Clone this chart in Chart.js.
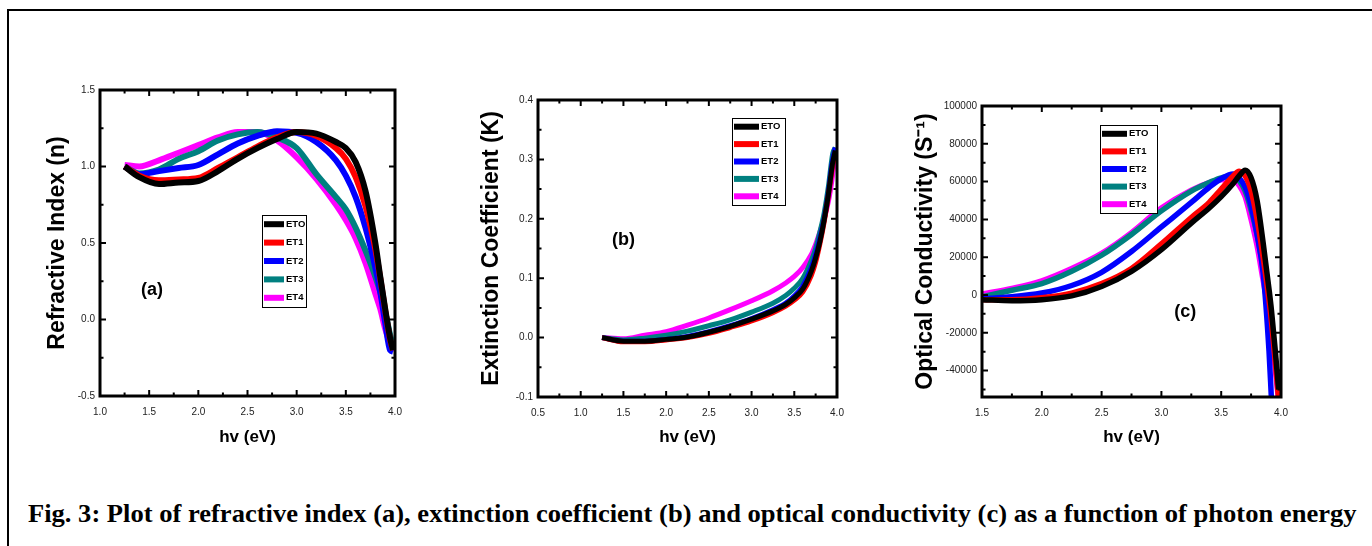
<!DOCTYPE html>
<html>
<head>
<meta charset="utf-8">
<script src="https://cdn.jsdelivr.net/npm/chart.js@4.4.1/dist/chart.umd.min.js"></script>
<style>
  body { margin: 0; background: #fff; width: 1372px; height: 546px; overflow: hidden; position: relative; }
  .frame { position: absolute; left: 7px; top: 9px; width: 1400px; height: 600px; border-top: 2px solid #000; border-left: 2px solid #000; }
  canvas { position: absolute; }
  #cap { position: absolute; left: 28px; top: 501px; font: bold 26px "Liberation Serif", "Times New Roman", serif; line-height: 26px; white-space: nowrap; transform-origin: 0 0; }
</style>
</head>
<body>
<div class="frame"></div>
<canvas id="chartA" width="385" height="380" style="left:20px;top:80px"></canvas>
<canvas id="chartB" width="377" height="370" style="left:470px;top:90px"></canvas>
<canvas id="chartC" width="391" height="364" style="left:900px;top:96px"></canvas>
<div id="cap">Fig. 3: Plot of refractive index (a), extinction coefficient (b) and optical conductivity (c) as a function of photon energy</div>

<script>
// series names + colours
const seriesNames = ["ETO", "ET1", "ET2", "ET3", "ET4"];
const lineColors = ["#000000", "#ff0000", "#0000ff", "#008080", "#ff00ff"];

// (a) refractive index
const hvA = [1.25, 1.4, 1.6, 1.8, 2.0, 2.2, 2.4, 2.6, 2.8, 3.0, 3.2, 3.4, 3.5, 3.6, 3.7, 3.8, 3.85, 3.9, 3.95, 3.98];
const nETO = [1.0, 0.93, 0.885, 0.895, 0.905, 0.97, 1.05, 1.12, 1.18, 1.225, 1.215, 1.16, 1.12, 1.03, 0.84, 0.5, 0.28, 0.07, -0.12, -0.2];
const nET1 = [1.0, 0.94, 0.91, 0.915, 0.925, 0.99, 1.06, 1.13, 1.19, 1.225, 1.2, 1.12, 1.05, 0.93, 0.74, 0.46, 0.27, 0.06, -0.13, -0.2];
const nET2 = [1.0, 0.95, 0.97, 0.99, 1.01, 1.08, 1.15, 1.2, 1.23, 1.22, 1.16, 1.04, 0.94, 0.8, 0.6, 0.34, 0.18, -0.02, -0.2, -0.21];
const nET3 = [1.0, 0.955, 0.98, 1.05, 1.1, 1.17, 1.21, 1.225, 1.19, 1.12, 0.95, 0.8, 0.72, 0.6, 0.45, 0.28, 0.18, 0.05, -0.1, -0.17];
const nET4 = [1.01, 1.0, 1.04, 1.09, 1.14, 1.19, 1.225, 1.225, 1.17, 1.06, 0.92, 0.75, 0.65, 0.53, 0.37, 0.17, 0.07, -0.06, -0.16, -0.21];

// (b) extinction coefficient
const hvB = [1.25, 1.5, 1.75, 2.0, 2.25, 2.5, 2.75, 3.0, 3.25, 3.4, 3.5, 3.6, 3.7, 3.75, 3.8, 3.85, 3.9, 3.93, 3.95, 3.98];
const kETO = [0.0, -0.006, -0.006, -0.003, 0.001, 0.009, 0.019, 0.031, 0.045, 0.056, 0.067, 0.082, 0.112, 0.134, 0.162, 0.198, 0.242, 0.275, 0.295, 0.315];
const kET1 = [0.0, -0.007, -0.007, -0.004, 0.0, 0.007, 0.017, 0.028, 0.042, 0.053, 0.063, 0.077, 0.105, 0.127, 0.158, 0.195, 0.24, 0.27, 0.29, 0.31];
const kET2 = [0.0, -0.006, -0.006, -0.003, 0.002, 0.01, 0.02, 0.032, 0.047, 0.058, 0.07, 0.087, 0.118, 0.14, 0.168, 0.2, 0.245, 0.28, 0.3, 0.32];
const kET3 = [0.0, -0.004, -0.001, 0.004, 0.011, 0.02, 0.03, 0.043, 0.058, 0.071, 0.083, 0.1, 0.13, 0.15, 0.178, 0.21, 0.255, 0.29, 0.31, 0.32];
const kET4 = [0.0, -0.002, 0.004, 0.01, 0.021, 0.033, 0.047, 0.062, 0.079, 0.092, 0.103, 0.118, 0.14, 0.157, 0.178, 0.2, 0.23, 0.255, 0.275, 0.31];

// (c) optical conductivity
const hvC = [1.5, 1.75, 2.0, 2.25, 2.5, 2.75, 3.0, 3.25, 3.4, 3.5, 3.6, 3.65, 3.7, 3.75, 3.8, 3.85, 3.9, 3.92, 3.95, 3.98];
const sETO = [-2500, -3000, -2500, -500, 4500, 12500, 24000, 38000, 46000, 52000, 59000, 63000, 66000, 62000, 50000, 28000, 3000, -8000, -28000, -50000];
const sET1 = [-2500, -2500, -1500, 1000, 6000, 14000, 27000, 41000, 49000, 56000, 63000, 65500, 63000, 55000, 40000, 20000, -3000, -14000, -34000, -55000];
const sET2 = [-2000, -1000, 1000, 5000, 12000, 23000, 36000, 49000, 57000, 61500, 64000, 62000, 57000, 47000, 32000, 12000, -30000, -55000, null, null];
const sET3 = [-1000, 2500, 6000, 12500, 21000, 32000, 44500, 55000, 59500, 62000, 62500, 60500, 55000, 45000, 32000, 14000, -5000, -15000, -32000, -50000];
const sET4 = [500, 3500, 7500, 14000, 22000, 33000, 46000, 55500, 59500, 61000, 61000, 58000, 52000, 40000, 26000, 8000, -10000, -20000, -38000, -56000];
const sTicks = [-40000, -20000, 0, 20000, 40000, 60000, 80000, 100000];

const sans = "'Liberation Sans', Arial, sans-serif";

// box + inward ticks on all four sides
const frameTicks = {
  id: "frameTicks",
  afterDatasetsDraw(chart) {
    const { ctx, chartArea: a } = chart;
    ctx.save();
    ctx.strokeStyle = "#000";
    ctx.lineWidth = 2;
    ["x", "y"].forEach((key) => {
      const s = chart.scales[key];
      const vals = s.ticks.map((t) => t.value);
      const step = vals[1] - vals[0];
      const eps = step * 1e-6;
      for (let k = -2; k <= vals.length * 2 + 2; k++) {
        const v = vals[0] + (k * step) / 2;
        if (v < s.min - eps || v > s.max + eps) continue;
        const len = k % 2 === 0 ? 6 : 3.5;
        const p = s.getPixelForValue(v);
        ctx.beginPath();
        if (key === "x") {
          ctx.moveTo(p, a.bottom); ctx.lineTo(p, a.bottom - len);
          ctx.moveTo(p, a.top); ctx.lineTo(p, a.top + len);
        } else {
          ctx.moveTo(a.left, p); ctx.lineTo(a.left + len, p);
          ctx.moveTo(a.right, p); ctx.lineTo(a.right - len, p);
        }
        ctx.stroke();
      }
    });
    ctx.lineWidth = 3;
    ctx.strokeRect(a.left, a.top, a.width, a.height);
    ctx.restore();
  },
};

// legend box inside the plot + panel letter
const boxLegend = {
  id: "boxLegend",
  afterDraw(chart, args, o) {
    const { ctx, chartArea: a } = chart;
    const bx = a.left + o.left, by = a.top + o.top;
    const rowH = o.h / chart.data.datasets.length;
    ctx.save();
    ctx.fillStyle = "#fff";
    ctx.fillRect(bx, by, o.w, o.h);
    ctx.strokeStyle = "#000";
    ctx.lineWidth = 1;
    ctx.strokeRect(bx + 0.5, by + 0.5, o.w, o.h);
    chart.data.datasets.forEach((ds, i) => {
      const cy = by + rowH * (i + 0.5);
      ctx.strokeStyle = ds.borderColor;
      ctx.lineWidth = 6;
      ctx.beginPath();
      ctx.moveTo(bx + 2, cy);
      ctx.lineTo(bx + 2 + o.sample, cy);
      ctx.stroke();
      ctx.fillStyle = "#000";
      ctx.font = "bold 9.5px " + sans;
      ctx.textBaseline = "middle";
      ctx.fillText(ds.label, bx + o.sample + 4, cy);
    });
    // panel letter
    ctx.font = "bold 18px " + sans;
    ctx.textAlign = "center";
    ctx.textBaseline = "middle";
    ctx.fillText(o.note, chart.scales.x.getPixelForValue(o.noteX), chart.scales.y.getPixelForValue(o.noteY));
    ctx.restore();
  },
};

function makePanel(id, hv, series, cfg) {
  const datasets = series.map((vals, i) => ({
    label: seriesNames[i],
    data: hv.map((x, j) => ({ x: x, y: vals[j] })),
    borderColor: lineColors[i],
    backgroundColor: lineColors[i],
    borderWidth: cfg.lw,
    pointRadius: 0,
    cubicInterpolationMode: "monotone",
    fill: false,
  }));
  const tickFont = { family: sans, size: 10 };
  new Chart(document.getElementById(id), {
    type: "line",
    data: { datasets },
    plugins: [frameTicks, boxLegend],
    options: {
      responsive: false,
      animation: false,
      events: [],
      layout: { padding: { top: cfg.padTop, right: 10, left: 0, bottom: 0 } },
      plugins: {
        legend: { display: false },
        tooltip: { enabled: false },
        boxLegend: cfg.legend,
      },
      scales: {
        x: {
          type: "linear",
          min: cfg.xMin, max: cfg.xMax,
          grid: { display: false, drawTicks: false },
          border: { display: false },
          ticks: { stepSize: 0.5, font: tickFont, color: "#222", padding: 10, maxRotation: 0, autoSkip: false, callback: (v) => v.toFixed(1) },
          title: { display: true, text: "hv (eV)", color: "#000", font: { family: sans, size: 17, weight: "bold" }, padding: { top: 0, bottom: 12 } },
          afterFit: (s) => { s.height = cfg.xAxisH; s.paddingLeft = 0; s.paddingRight = 0; },
        },
        y: {
          min: cfg.yMin, max: cfg.yMax,
          grid: { display: false, drawTicks: false },
          border: { display: false },
          ticks: { stepSize: cfg.yStep, font: tickFont, color: "#222", padding: 5, autoSkip: false, callback: cfg.yFmt },
          afterBuildTicks: cfg.yTicks ? (s) => { s.ticks = cfg.yTicks.map((v) => ({ value: v })); } : undefined,
          title: { display: true, text: cfg.yTitle, color: "#000", font: { family: sans, size: 23, weight: "bold" }, padding: { top: cfg.yTitlePad, bottom: 0 } },
          afterFit: (s) => { s.width = cfg.yAxisW; s.paddingTop = 0; s.paddingBottom = 0; },
        },
      },
    },
  });
}

makePanel("chartA", hvA, [nETO, nET1, nET2, nET3, nET4], {
  lw: 6, padTop: 10, xAxisH: 64, yAxisW: 80, yTitlePad: 24,
  xMin: 1.0, xMax: 4.0, yMin: -0.5, yMax: 1.5, yStep: 0.5,
  yFmt: (v) => v.toFixed(1),
  yTitle: "Refractive Index (n)",
  legend: { left: 162, top: 125, w: 44, h: 92, sample: 20, note: "(a)", noteX: 1.53, noteY: 0.19 },
});

makePanel("chartB", hvB, [kETO, kET1, kET2, kET3, kET4], {
  lw: 5, padTop: 10, xAxisH: 63, yAxisW: 68, yTitlePad: 8,
  xMin: 0.5, xMax: 4.0, yMin: -0.1, yMax: 0.4, yStep: 0.1,
  yFmt: (v) => v.toFixed(1),
  yTitle: "Extinction Coefficient (K)",
  legend: { left: 194, top: 18, w: 53, h: 87, sample: 25, note: "(b)", noteX: 1.5, noteY: 0.164 },
});

makePanel("chartC", hvC, [sETO, sET1, sET2, sET3, sET4], {
  lw: 5.5, padTop: 10, xAxisH: 63, yAxisW: 82, yTitlePad: 12,
  xMin: 1.5, xMax: 4.0, yMin: -54000, yMax: 100000, yStep: 20000,
  yFmt: (v) => String(v),
  yTicks: sTicks,
  yTitle: "Optical Conductivity (S\u207B\u00B9)",
  legend: { left: 118, top: 19, w: 57, h: 88, sample: 25, note: "(c)", noteX: 3.2, noteY: -9000 },
});

// stretch caption to the printed width
const cap = document.getElementById("cap");
cap.style.transform = "scaleX(" + (1329 / cap.scrollWidth) + ")";
</script>
</body>
</html>
